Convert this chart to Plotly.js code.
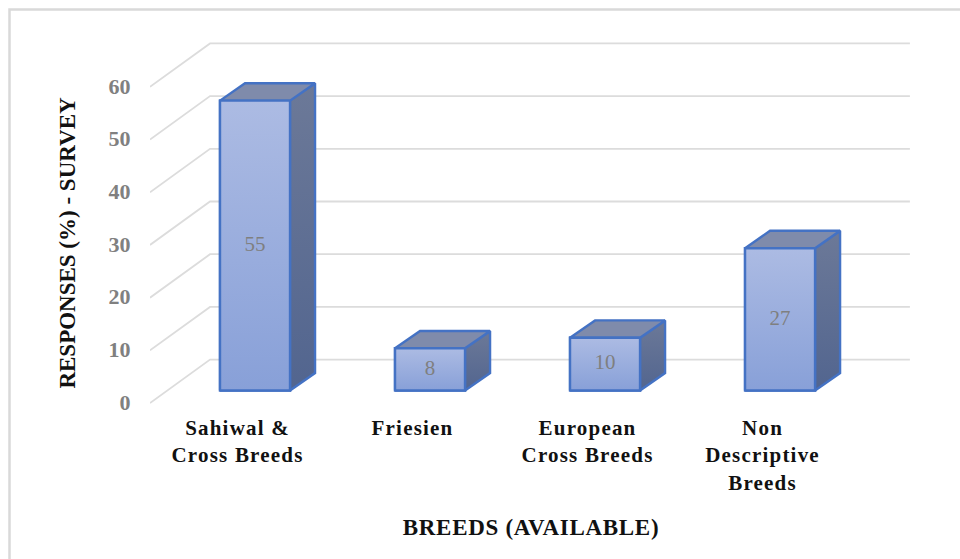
<!DOCTYPE html>
<html>
<head>
<meta charset="utf-8">
<script src="https://cdn.plot.ly/plotly-3.0.1.min.js"></script>
<style>
html,body{margin:0;padding:0;background:#fff;overflow:hidden}
.xtick text{letter-spacing:1.2px}
.xtitle{letter-spacing:0.7px}
</style>
</head>
<body>
<div id="chart" style="width:960px;height:559px"></div>
<script>
var categories = ["Sahiwal &<br>Cross Breeds", "Friesien", "European<br>Cross Breeds", "Non<br>Descriptive<br>Breeds"];
var responses = [55, 8, 10, 27];
var gridValues = [0, 10, 20, 30, 40, 50, 60];

var serif = "Liberation Serif, serif";
var positions = categories.map(function (c, i) { return i; });
var barWidth = 0.4, depthX = 0.143, depthY = 3.3;
var xMin = -0.6, xMax = 3.754, xWall = -0.257, xEnd = 3.742;
var gridFrontShift = -0.2, gridBackShift = 8.05;

var traces = [];

// floor/wall grid on the primary value axis
var gx = [], gy = [];
gridValues.forEach(function (v) {
  gx.push(xMin, xWall, xEnd, null);
  gy.push(v + gridFrontShift, v + gridBackShift, v + gridBackShift, null);
});
traces.push({type: "scatter", mode: "lines", x: gx, y: gy, yaxis: "y", xaxis: "x",
  line: {color: "#dcdcdc", width: 1.8}, hoverinfo: "skip", showlegend: false});

// front faces
traces.push({type: "bar", x: positions, y: responses, width: barWidth, yaxis: "y2", xaxis: "x",
  marker: {color: "#99ade0", line: {color: "#4472c4", width: 2.4}}, showlegend: false});

function face(xs, ys, stops) {
  traces.push({type: "scatter", mode: "lines", x: xs, y: ys, yaxis: "y2", xaxis: "x",
    fill: "toself",
    fillgradient: {type: "vertical", colorscale: [[0, stops[0]], [1, stops[1]]]},
    line: {color: "#4472c4", width: 2.4}, hoverinfo: "skip", showlegend: false});
}

positions.forEach(function (p, i) {
  var v = responses[i], l = p - barWidth / 2, r = p + barWidth / 2;
  face([r, r + depthX, r + depthX, r, r], [0, depthY, v + depthY, v, 0], ["#52658f", "#6c7998"]);
  face([l, r, r + depthX, l + depthX, l], [v, v, v + depthY, v + depthY, v], ["#7f8bab", "#7f8bab"]);
  face([l, r, r, l, l], [0, 0, v, v, 0], ["#88a0d8", "#acbbe3"]);
});

// value labels
traces.push({type: "scatter", mode: "text", x: positions,
  y: responses.map(function (v) { return v / 2; }),
  text: responses.map(String), yaxis: "y2", xaxis: "x", textposition: "middle center",
  textfont: {family: serif, size: 21, color: "#7f7f7f"}, hoverinfo: "skip", showlegend: false});

var layout = {
  width: 960, height: 559,
  margin: {l: 150, r: 48, t: 20, b: 93, pad: 0},
  paper_bgcolor: "#ffffff", plot_bgcolor: "rgba(0,0,0,0)",
  showlegend: false,
  xaxis: {
    type: "linear", range: [xMin, xMax],
    tickmode: "array", tickvals: positions.map(function (p) { return p - 0.1; }), ticktext: categories,
    anchor: "free", position: 0.1368,
    showgrid: false, zeroline: false, showline: false,
    ticks: "outside", ticklen: 4, tickcolor: "rgba(0,0,0,0)",
    tickangle: 0,
    tickfont: {family: serif, size: 21, color: "#111111", weight: "bold"},
    title: {text: "<b>BREEDS (AVAILABLE)</b>", standoff: 25, font: {family: serif, size: 23, color: "#111111"}}
  },
  yaxis: {
    domain: [0, 1], range: [-12.14, 72.49],
    tickmode: "array", tickvals: gridValues, ticktext: gridValues.map(String),
    showgrid: false, zeroline: false, showline: false,
    ticks: "outside", ticklen: 14, tickcolor: "rgba(0,0,0,0)",
    tickfont: {family: serif, size: 22, color: "#808080", weight: "bold"},
    title: {text: "<b>RESPONSES (%) - SURVEY</b>", standoff: 26, font: {family: serif, size: 23, color: "#111111"}}
  },
  yaxis2: {
    overlaying: "y", range: [-14.33, 70.3], visible: false
  },
  shapes: [{
    type: "rect", xref: "paper", yref: "paper",
    x0: (9.5 - 150) / 762, x1: (1100 - 150) / 762,
    y0: (466 - 700) / 446, y1: (466 - 9.5) / 446,
    line: {color: "#d9d9d9", width: 2.5}, fillcolor: "rgba(0,0,0,0)", layer: "below"
  }]
};

Plotly.newPlot("chart", traces, layout, {displayModeBar: false, responsive: false});
</script>
</body>
</html>
